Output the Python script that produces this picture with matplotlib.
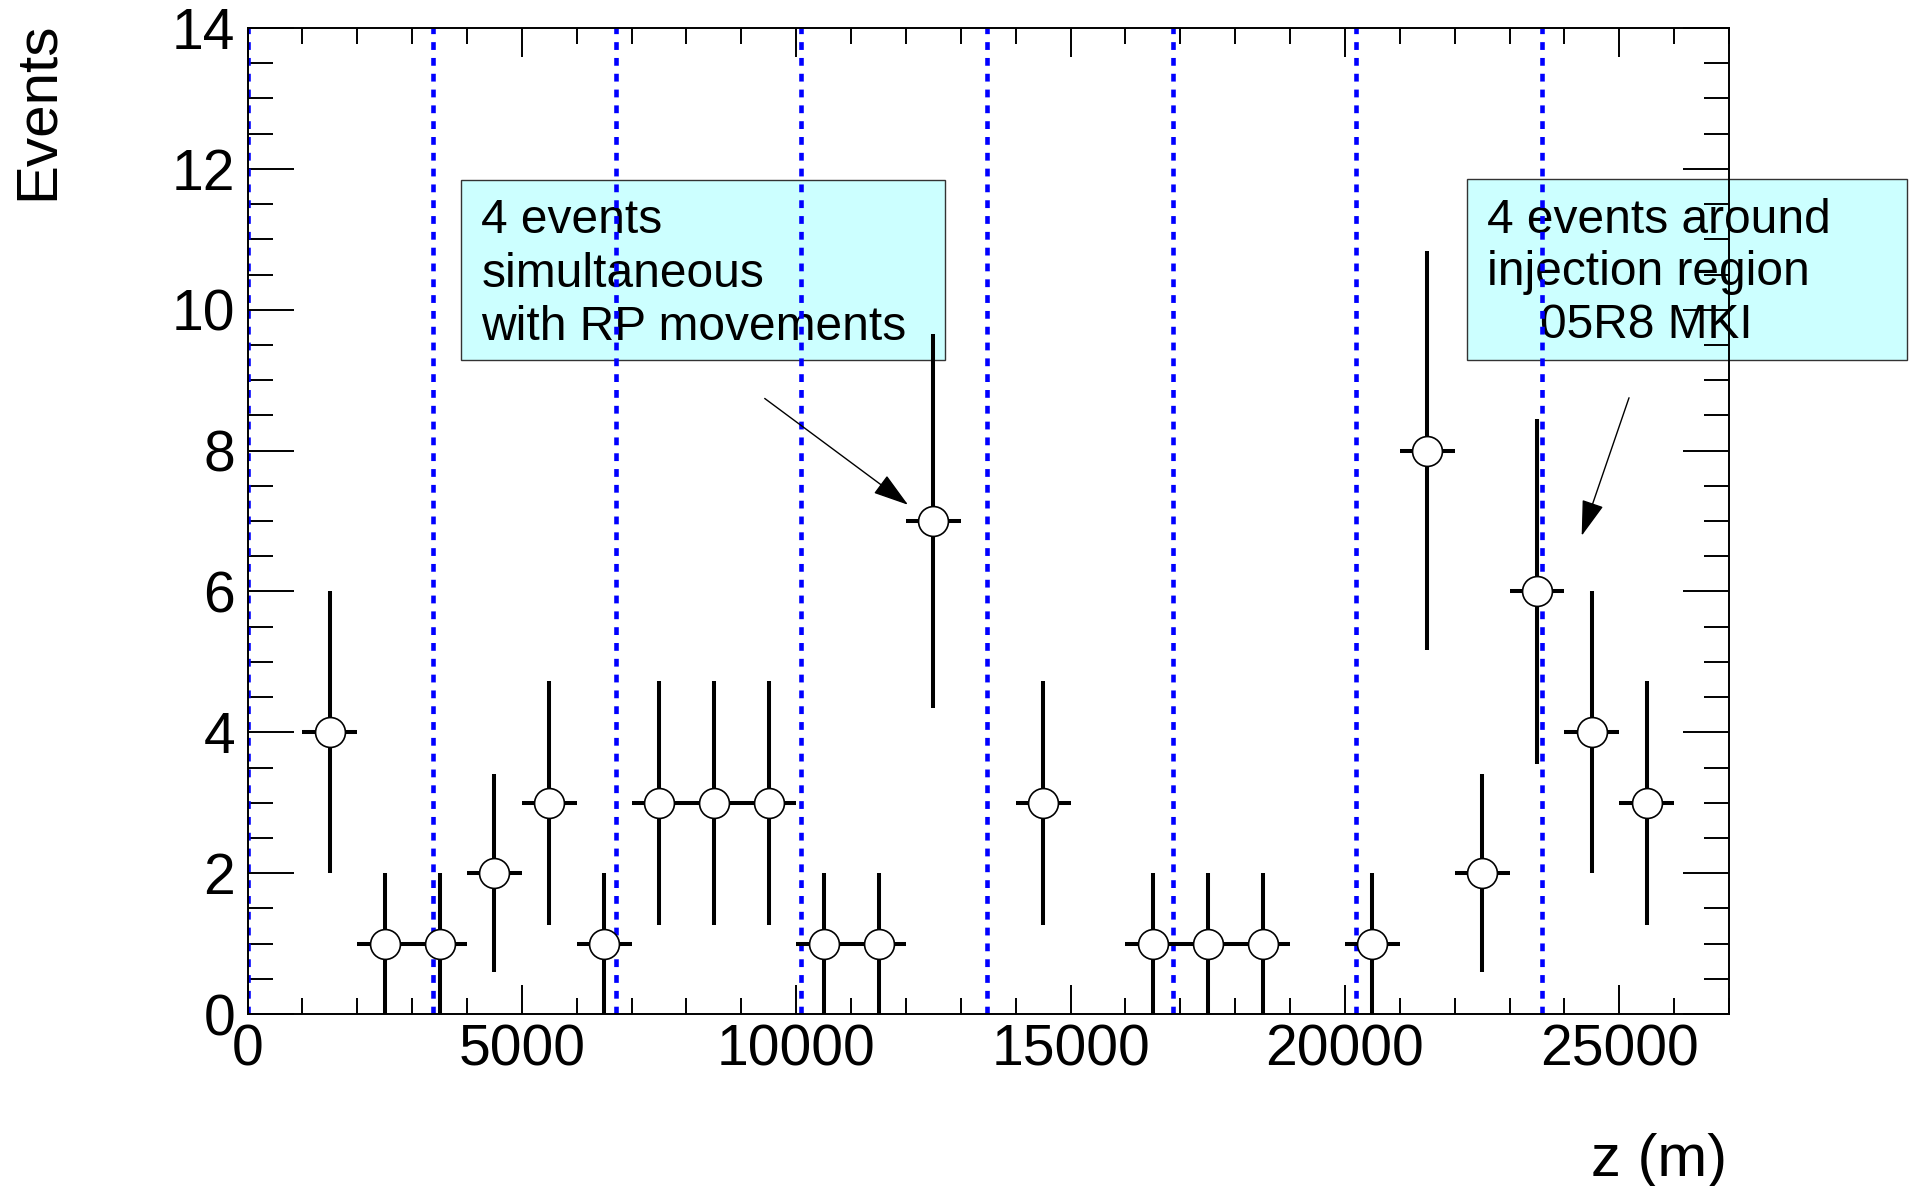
import matplotlib
matplotlib.use("Agg")
import matplotlib.pyplot as plt
from matplotlib.patches import Rectangle
from matplotlib.patches import ArrowStyle
from matplotlib.ticker import MultipleLocator

plt.rcParams['font.family'] = ['Liberation Sans', 'DejaVu Sans']

# event counts per 1000 m bin (bin centres in m)
z_centres = [1500, 2500, 3500, 4500, 5500, 6500, 7500, 8500, 9500, 10500, 11500,
             12500, 14500, 16500, 17500, 18500, 20500, 21500, 22500, 23500, 24500, 25500]
counts = [4, 1, 1, 2, 3, 1, 3, 3, 3, 1, 1,
          7, 3, 1, 1, 1, 1, 8, 2, 6, 4, 3]
count_errors = [2.0, 1.0, 1.0, 1.41, 1.73, 1.0, 1.73, 1.73, 1.73, 1.0, 1.0,
                2.65, 1.73, 1.0, 1.0, 1.0, 1.0, 2.83, 1.41, 2.45, 2.0, 1.73]
bin_half_width = 500

# sector boundaries (blue dotted lines)
sector_lines = [0, 3380, 6710, 10095, 13485, 16870, 20200, 23585]

x_ticks = [0, 5000, 10000, 15000, 20000, 25000]
y_ticks = [0, 2, 4, 6, 8, 10, 12, 14]

W, H = 1912, 1186
fig = plt.figure(figsize=(W / 100, H / 100), dpi=100)
ax = fig.add_axes([247.5 / W, (H - 1014) / H, (1729 - 247.5) / W, (1014 - 28) / H])

for xl in sector_lines:
    ax.axvline(xl, color='#0000ff', lw=3.3, linestyle=(0, (1.7, 1.75)), zorder=2)

ax.errorbar(z_centres, counts, yerr=count_errors, xerr=bin_half_width,
            fmt='o', color='black', ecolor='black', elinewidth=2.9,
            markersize=21.5, markerfacecolor='white', markeredgecolor='black',
            markeredgewidth=1.2, capsize=0, zorder=3)

ax.set_xlim(0, 27000)
ax.set_ylim(0, 14)
ax.set_xticks(x_ticks)
ax.set_yticks(y_ticks)
ax.xaxis.set_minor_locator(MultipleLocator(1000))
ax.yaxis.set_minor_locator(MultipleLocator(0.5))
ax.tick_params(axis='both', which='both', direction='in', top=True, right=True,
               width=1.4, labelsize=41)
ax.tick_params(axis='x', which='major', length=21, pad=7)
ax.tick_params(axis='x', which='minor', length=11.5)
ax.tick_params(axis='y', which='major', length=33, pad=9)
ax.tick_params(axis='y', which='minor', length=18)
for s in ax.spines.values():
    s.set_linewidth(1.4)

fig.text(65 / W, (H - 22) / H, "Events", rotation=90, ha='right', va='top', fontsize=42)
fig.text(1727 / W, 10 / H, "z (m)", ha='right', va='baseline', fontsize=43)

# annotation boxes
box_face = '#ccffff'
ax.add_patch(Rectangle((3896, 9.28), 12707 - 3896, 11.84 - 9.28, facecolor=box_face,
                       edgecolor='#333333', lw=1.0, zorder=1, clip_on=False))
ax.add_patch(Rectangle((22219, 9.29), 30246 - 22219, 11.85 - 9.29, facecolor=box_face,
                       edgecolor='#333333', lw=1.0, zorder=1, clip_on=False))

box1_lines = ["4 events", "simultaneous", "with RP movements"]
box1_y = [11.085, 10.32, 9.57]
for txt, yy in zip(box1_lines, box1_y):
    ax.text(4261, yy, txt, fontsize=34.5, va='baseline', ha='left', zorder=1.5, clip_on=False)

box2_lines = ["4 events around", "injection region", "05R8 MKI"]
box2_x = [22583, 22583, 23555]
box2_y = [11.09, 10.35, 9.60]
for txt, xx, yy in zip(box2_lines, box2_x, box2_y):
    ax.text(xx, yy, txt, fontsize=34.5, va='baseline', ha='left', zorder=1.5, clip_on=False)

arrow_style = ArrowStyle('-|>', head_length=1.6, head_width=0.5)
ax.annotate("", xy=(12038, 7.23), xytext=(9426, 8.74),
            arrowprops=dict(arrowstyle=arrow_style, mutation_scale=14, lw=1.0,
                            color='black', shrinkA=0, shrinkB=0), zorder=4)
ax.annotate("", xy=(24315, 6.79), xytext=(25178, 8.75),
            arrowprops=dict(arrowstyle=arrow_style, mutation_scale=14, lw=1.0,
                            color='black', shrinkA=0, shrinkB=0), zorder=4)

fig.savefig("out.png", dpi=100)
